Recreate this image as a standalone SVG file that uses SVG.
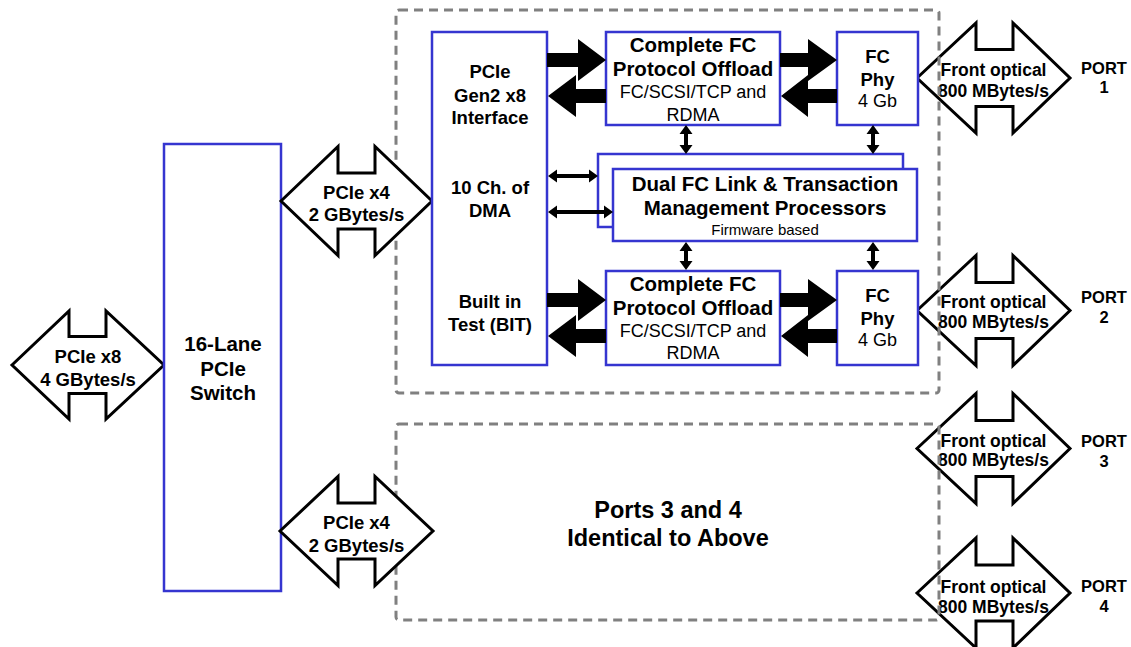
<svg xmlns="http://www.w3.org/2000/svg" width="1131" height="647" viewBox="0 0 1131 647">
<style>
.box{fill:#fff;stroke:#3535d0;stroke-width:2.5}
.dash{fill:none;stroke:#808080;stroke-width:3;stroke-dasharray:9 6}
.big{fill:#fff;stroke:#000;stroke-width:3;stroke-linejoin:miter}
.blk{fill:#000;stroke:none}
text{font-family:"Liberation Sans",Arial,sans-serif;text-anchor:middle;fill:#000}
.b{font-weight:bold}
.t18{font-size:18.5px}
.t20{font-size:20.5px}
.r18{font-size:18px}
.r15{font-size:15px}
.fo{font-size:17.5px;font-weight:bold}
.port{font-size:16.5px;font-weight:bold}
</style>
<rect width="1131" height="647" fill="#fff"/>

<g id="front-optical-1"><polygon class="big" points="917,78 976,23 976,49.5 1013,49.5 1013,23 1070,78 1013,133 1013,106.5 976,106.5 976,133"/>
<text class="fo" x="993.5" y="76">Front optical</text><text class="fo" x="993.5" y="97">800 MBytes/s</text></g>
<g id="front-optical-2"><polygon class="big" points="917,310.5 976,255.5 976,282.5 1013,282.5 1013,255.5 1070,310.5 1013,365.5 1013,338.5 976,338.5 976,365.5"/>
<text class="fo" x="993.5" y="308">Front optical</text><text class="fo" x="993.5" y="328">800 MBytes/s</text></g>
<g id="front-optical-3"><polygon class="big" points="917,448.5 976,393.5 976,420.5 1013,420.5 1013,393.5 1070,448.5 1013,503.5 1013,476.5 976,476.5 976,503.5"/>
<text class="fo" x="993.5" y="447">Front optical</text><text class="fo" x="993.5" y="466">800 MBytes/s</text></g>
<g id="front-optical-4"><polygon class="big" points="917,593 976,538 976,565 1013,565 1013,538 1070,593 1013,648 1013,621 976,621 976,648"/>
<text class="fo" x="993.5" y="593">Front optical</text><text class="fo" x="993.5" y="613">800 MBytes/s</text></g>

<g id="group-ports-1-2"><rect class="dash" x="396" y="10" width="543" height="383" rx="3"/></g>
<g id="group-ports-3-4"><rect class="dash" x="396" y="424" width="543" height="196" rx="3"/>
<text class="b" style="font-size:23.5px" x="668" y="518">Ports 3 and 4</text>
<text class="b" style="font-size:23.5px" x="668" y="546">Identical to Above</text></g>

<g id="pcie-x8"><polygon class="big" points="12,365 69,311 69,336.5 106,336.5 106,311 164,365 106,419 106,393.5 69,393.5 69,419"/>
<text class="b t18" x="88" y="363">PCIe x8</text><text class="b t18" x="88" y="386">4 GBytes/s</text></g>

<g id="switch"><rect class="box" x="164" y="144" width="117" height="447"/>
<text class="b t20" x="223" y="351">16-Lane</text><text class="b t20" x="223" y="376">PCIe</text><text class="b t20" x="223" y="400">Switch</text></g>

<g id="pcie-x4-upper"><polygon class="big" points="281,201 338,146.5 338,173 375,173 375,146.5 432,201 375,255.5 375,229 338,229 338,255.5"/>
<text class="b t18" x="356.5" y="199">PCIe x4</text><text class="b t18" x="356.5" y="221">2 GBytes/s</text></g>
<g id="pcie-x4-lower"><polygon class="big" points="280,531 338,476.5 338,503 375,503 375,476.5 433,531 375,585.5 375,559 338,559 338,585.5"/>
<text class="b t18" x="356.5" y="529">PCIe x4</text><text class="b t18" x="356.5" y="552">2 GBytes/s</text></g>

<g id="pcie-interface"><rect class="box" x="432" y="32" width="115" height="333"/>
<text class="b t18" x="490" y="78">PCIe</text><text class="b t18" x="490" y="102">Gen2 x8</text><text class="b t18" x="490" y="124">Interface</text>
<text class="b t18" x="490" y="194">10 Ch. of</text><text class="b t18" x="490" y="217">DMA</text>
<text class="b t18" x="490" y="308">Built in</text><text class="b t18" x="490" y="331">Test (BIT)</text></g>

<g id="offload-1"><rect class="box" x="606" y="32" width="174" height="93"/>
<text class="b t20" x="693" y="52">Complete FC</text><text class="b t20" x="693" y="76">Protocol Offload</text>
<text class="r18" x="693" y="98">FC/SCSI/TCP and</text><text class="r18" x="693" y="121">RDMA</text></g>
<g id="offload-2"><rect class="box" x="606" y="271" width="174" height="94"/>
<text class="b t20" x="693" y="291">Complete FC</text><text class="b t20" x="693" y="315">Protocol Offload</text>
<text class="r18" x="693" y="337">FC/SCSI/TCP and</text><text class="r18" x="693" y="359">RDMA</text></g>

<g id="phy-1"><rect class="box" x="837" y="32" width="81" height="93"/>
<text class="b t18" x="877.5" y="63">FC</text><text class="b t18" x="877.5" y="86">Phy</text><text class="r18" x="877.5" y="107">4 Gb</text></g>
<g id="phy-2"><rect class="box" x="837" y="271" width="81" height="94"/>
<text class="b t18" x="877.5" y="302">FC</text><text class="b t18" x="877.5" y="325">Phy</text><text class="r18" x="877.5" y="346">4 Gb</text></g>

<g id="processors"><rect class="box" x="598" y="154" width="305" height="73"/>
<rect class="box" x="613" y="169" width="304" height="72"/>
<text class="b t20" x="765" y="191">Dual FC Link &amp; Transaction</text>
<text class="b t20" x="765" y="215">Management Processors</text>
<text class="r15" x="765" y="235">Firmware based</text></g>

<g id="port-labels">
<text class="port" x="1104" y="74">PORT</text><text class="port" x="1104" y="93">1</text>
<text class="port" x="1104" y="303">PORT</text><text class="port" x="1104" y="323">2</text>
<text class="port" x="1104" y="447">PORT</text><text class="port" x="1104" y="467">3</text>
<text class="port" x="1104" y="592">PORT</text><text class="port" x="1104" y="612">4</text>
</g>

<g id="connectors">
<polygon class="blk" points="547,53 578,53 578,39 606,60 578,81 578,67 547,67"/>
<polygon class="blk" points="548,96 576,75 576,89 606,89 606,103 576,103 576,117"/>
<polygon class="blk" points="780,53 808,53 808,39 837,60 808,81 808,67 780,67"/>
<polygon class="blk" points="781,96 808,75 808,89 837,89 837,103 808,103 808,117"/>
<polygon class="blk" points="547,293 578,293 578,279 606,300 578,321 578,307 547,307"/>
<polygon class="blk" points="548,336 576,315 576,329 606,329 606,343 576,343 576,357"/>
<polygon class="blk" points="780,293 808,293 808,279 837,300 808,321 808,307 780,307"/>
<polygon class="blk" points="781,336 808,315 808,329 837,329 837,343 808,343 808,357"/>
<polygon class="blk" points="686,125 692.5,134 688,134 688,145 692.5,145 686,154 679.5,145 684,145 684,134 679.5,134"/>
<polygon class="blk" points="873,125 879.5,134 875,134 875,145 879.5,145 873,154 866.5,145 871,145 871,134 866.5,134"/>
<polygon class="blk" points="686,242 692.5,251 688,251 688,261 692.5,261 686,270 679.5,261 684,261 684,251 679.5,251"/>
<polygon class="blk" points="873,242 879.5,251 875,251 875,261 879.5,261 873,270 866.5,261 871,261 871,251 866.5,251"/>
<polygon class="blk" points="548,176 557,169.5 557,174 589,174 589,169.5 598,176 589,182.5 589,178 557,178 557,182.5"/>
<polygon class="blk" points="548,212 557,205.5 557,210 604,210 604,205.5 613,212 604,218.5 604,214 557,214 557,218.5"/>
</g>
</svg>
